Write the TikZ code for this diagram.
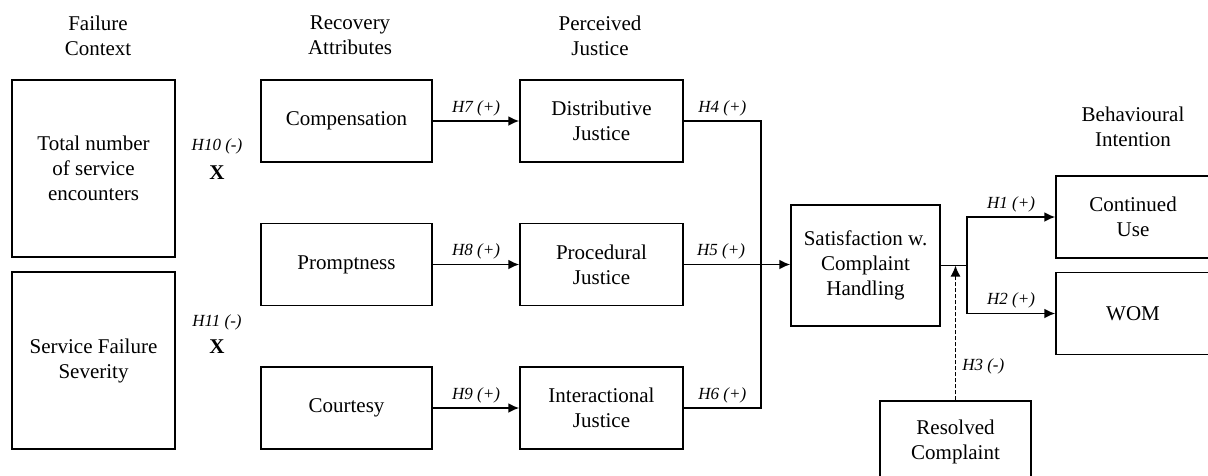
\documentclass[tikz,border=0pt]{standalone}
\usepackage{fontspec}
\setmainfont{Liberation Serif}
\usetikzlibrary{arrows.meta,positioning,calc}

\begin{document}
\begin{tikzpicture}
[x=1pt,y=-1pt,
every node/.style={draw=none,align=center,font=\fontsize{21}{25}\selectfont},
box/.style={draw,line width=1.5pt,inner sep=0pt},
context/.style={box,minimum width=163pt,minimum height=177pt},
attribute/.style={box,minimum width=171pt,minimum height=82pt},
justice/.style={box,minimum width=163pt,minimum height=82pt},
outcome/.style={box,minimum width=154pt,minimum height=82pt},
hyp/.style={font=\fontsize{17}{20}\selectfont\itshape,inner sep=1pt},
cross/.style={font=\fontsize{21}{25}\selectfont\bfseries},
link/.style={line width=1.8pt},
edge/.style={->,>={Latex[length=11pt,width=10pt]}, shorten >=.0pt, shorten <=.0pt, line width=1.8pt}]
\useasboundingbox (0,0) rectangle (1208,475);
%%
%% column heads
\node (hfailure) at (98,35.5) {Failure\\Context};
\node (hrecovery) at (350,35.5) {Recovery\\Attributes};
\node (hjustice) at (600,35.5) {Perceived\\Justice};
\node (hintention) at (1133,126.5) {Behavioural\\Intention};
%%
%% failure context
\node[context] (encounters) at (93.5,168.5) {Total number\\of service\\encounters};
\node[context] (severity) at (93.5,360.5) {Service Failure\\Severity};
\node[hyp] (h10) at (217,146) {H10 (-)};
\node[cross] (x10) at (217,173) {X};
\node[hyp] (h11) at (217,322) {H11 (-)};
\node[cross] (x11) at (217,347) {X};
%%
%% recovery attributes
\node[attribute] (compensation) at (346.5,121) {Compensation};
\node[attribute] (promptness) at (346.5,264.5) {Promptness};
\node[attribute] (courtesy) at (346.5,408) {Courtesy};
%%
%% perceived justice
\node[justice] (distributive) at (601.5,121) {Distributive\\Justice};
\node[justice] (procedural) at (601.5,264.5) {Procedural\\Justice};
\node[justice] (interactional) at (601.5,408) {Interactional\\Justice};
%%
\node[box,minimum width=149pt,minimum height=121pt] (satisfaction) at (865.5,265.5) {Satisfaction w.\\Complaint\\Handling};
\node[box,minimum width=151pt,minimum height=82pt] (resolved) at (955.5,442) {Resolved\\Complaint};
%%
%% behavioural intention
\node[outcome] (continued) at (1133,217) {Continued\\Use};
\node[outcome] (wom) at (1133,313.5) {WOM};
%%
\draw[edge] (compensation) -- node[hyp,above=3pt] {H7 (+)} (distributive);
\draw[edge] (promptness) -- node[hyp,above=3pt] {H8 (+)} (procedural);
\draw[edge] (courtesy) -- node[hyp,above=3pt] {H9 (+)} (interactional);
%%
\draw[link] (distributive.east) -- node[hyp,above=3pt] {H4 (+)} ++(77,0) |- node[hyp,above=3pt,pos=0.75] {H6 (+)} (interactional.east);
\draw[edge] (procedural.east) -- node[hyp,above=3pt,pos=0.35] {H5 (+)} (procedural.east -| satisfaction.west);
%%
\coordinate (split) at (967,265.5);
\draw[link] (satisfaction.east) -- (split);
\draw[edge] (split) |- node[hyp,above=3pt,pos=0.75] {H1 (+)} (continued.west);
\draw[edge] (split) |- node[hyp,above=3pt,pos=0.75] {H2 (+)} (wom.west);
\draw[edge,line width=1.5pt,dash pattern=on 4pt off 2pt] (resolved.north) -- node[hyp,right=5pt,pos=0.25] {H3 (-)} (resolved.north |- satisfaction.east);
\end{tikzpicture}
\end{document}
